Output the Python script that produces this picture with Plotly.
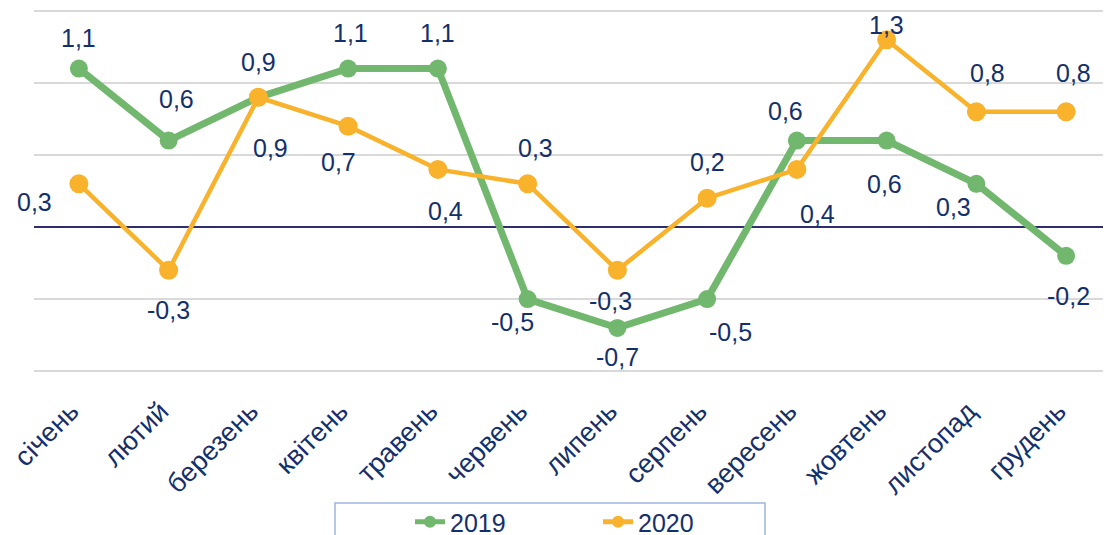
import plotly.graph_objects as go

months = ["січень", "лютий", "березень", "квітень", "травень", "червень",
          "липень", "серпень", "вересень", "жовтень", "листопад", "грудень"]
y2019 = [1.1, 0.6, 0.9, 1.1, 1.1, -0.5, -0.7, -0.5, 0.6, 0.6, 0.3, -0.2]
y2020 = [0.3, -0.3, 0.9, 0.7, 0.4, 0.3, -0.3, 0.2, 0.4, 1.3, 0.8, 0.8]

# зсуви підписів (px) відносно точки
off2019 = [(0, 31), (8, 42), (0, 35), (2, 36), (0, 36), (-15, -23),
           (0, -29), (23, -33), (-11, 30), (-2, -43), (-23, -23), (2, -40)]
off2020 = [(-44, -18), (0, -40), (12, -51), (-10, -36), (8, -42), (8, 36),
           (-7, -31), (0, 36), (21, -45), (0, 15), (11, 39), (7, 39)]

GREEN = "#72B76E"
ORANGE = "#F9B22C"
NAVY = "#14306A"
FONT = "Liberation Sans, Arial, sans-serif"

fig = go.Figure()
fig.add_trace(go.Scatter(x=months, y=y2019, name="2019", mode="lines+markers",
                         line=dict(color=GREEN, width=7),
                         marker=dict(size=18, color=GREEN), cliponaxis=False))
fig.add_trace(go.Scatter(x=months, y=y2020, name="2020", mode="lines+markers",
                         line=dict(color=ORANGE, width=4.5),
                         marker=dict(size=19, color=ORANGE), cliponaxis=False))


def fmt(v):
    return f"{v:.1f}".replace(".", ",")


annotations = []
for ys, offs in ((y2019, off2019), (y2020, off2020)):
    for m, v, (dx, dy) in zip(months, ys, offs):
        annotations.append(dict(x=m, y=v, text=fmt(v), showarrow=False,
                                xshift=dx, yshift=dy,
                                font=dict(size=25, color=NAVY, family=FONT)))

# рамка легенди
fig.add_shape(type="rect", xref="paper", yref="paper",
              x0=(335 - 34) / 1077, x1=(765 - 34) / 1077,
              y0=-0.48, y1=(374 - 503) / 366,
              line=dict(color="#9DB4E0", width=1.5), layer="above")

# сторінка має відступ 8px, тому розмір фігури менший на 8px
fig.update_layout(
    width=1103, height=527,
    margin=dict(l=26, r=0, t=0, b=161),
    paper_bgcolor="white", plot_bgcolor="white",
    font=dict(family=FONT, color=NAVY),
    annotations=annotations,
    showlegend=True,
    legend=dict(orientation="h", xref="container", yref="container",
                x=(410 - 8) / 1103, xanchor="left",
                y=1 - (499 - 8) / 527, yanchor="top",
                borderwidth=0, bgcolor="rgba(0,0,0,0)",
                font=dict(size=25, color=NAVY, family=FONT),
                entrywidth=143, itemsizing="constant"),
)
fig.update_xaxes(showgrid=False, showline=False, ticks="", tickangle=-45,
                 tickfont=dict(size=27, color=NAVY, family=FONT),
                 ticklabelstandoff=15, ticklabelshift=-8,
                 range=[-0.5, 11.5], automargin=False)
fig.update_yaxes(range=[-1.02, 1.52], dtick=0.5, showticklabels=False,
                 showgrid=True, gridcolor="#D9D9D9", gridwidth=1.5,
                 zeroline=True, zerolinecolor="#2E2E6E", zerolinewidth=1.5,
                 automargin=False)

fig.write_html("out.html")
